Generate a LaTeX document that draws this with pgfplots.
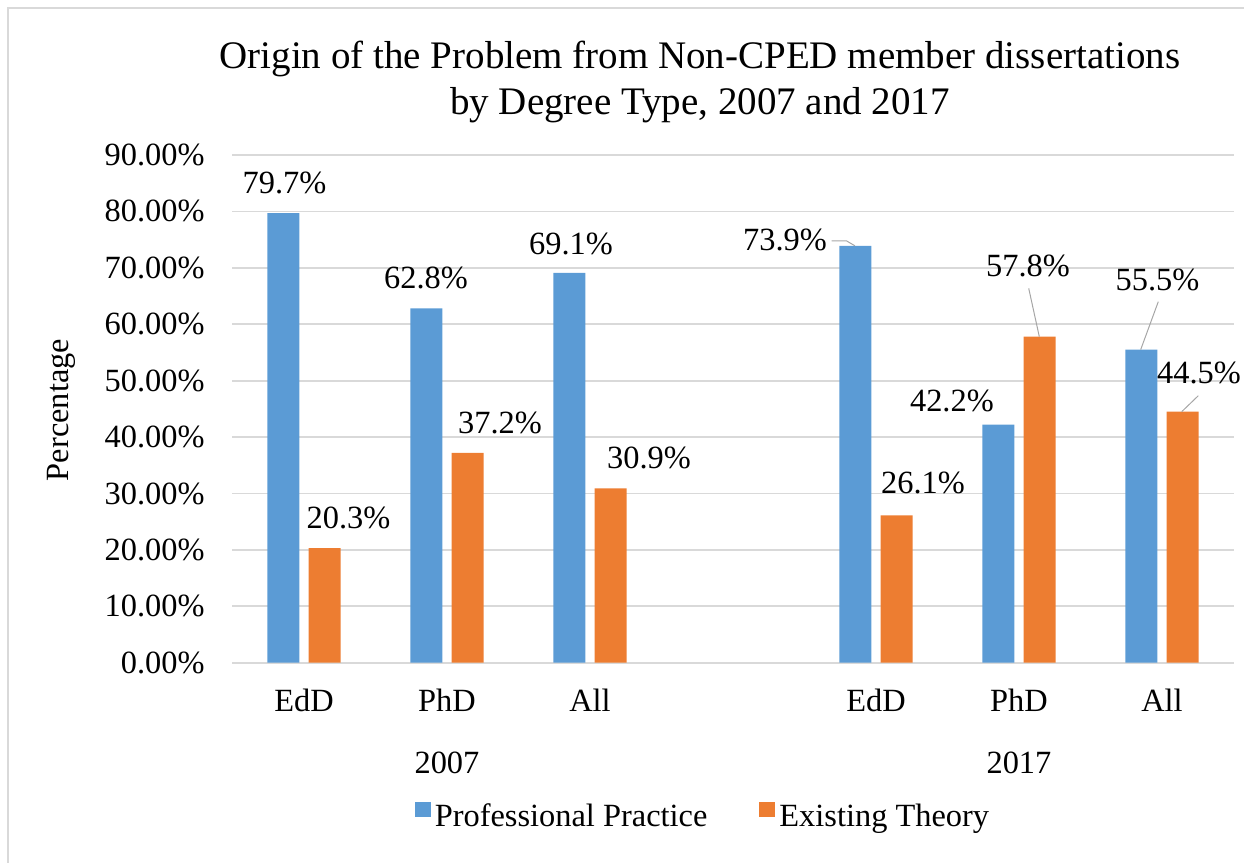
\documentclass[border=0pt]{standalone}
\usepackage{fontspec}
\setmainfont{Liberation Serif}
\usepackage{pgfplots}
\pgfplotsset{compat=1.18}

\definecolor{pblue}{HTML}{5B9BD5}
\definecolor{porange}{HTML}{ED7D31}
\definecolor{gridgray}{HTML}{D9D9D9}
\definecolor{leadgray}{HTML}{A6A6A6}

\newcommand{\lbl}{\fontsize{16.2pt}{19pt}\selectfont}
\newcommand{\ttl}{\fontsize{19.5pt}{23pt}\selectfont}

\begin{document}
\begin{tikzpicture}
% page is 1244x863 px at 0.5pt per px
\path[use as bounding box] (0,0) rectangle (622pt,431.5pt);
\draw[gridgray, line width=1pt] (4pt,0) -- (4pt,427.5pt) -- (622pt,427.5pt);

\node[anchor=base, font=\ttl] at (350pt,397pt) {Origin of the Problem from Non-CPED member dissertations};
\node[anchor=base, font=\ttl] at (350pt,374pt) {by Degree Type, 2007 and 2017};
\node[rotate=90, font=\lbl] at (30.5pt,226.5pt) {Percentage};

\begin{axis}[
    at={(116.25pt,100.15pt)}, anchor=south west,
    scale only axis,
    width=500.5pt, height=253.85pt,
    xmin=-0.5, xmax=6.5,
    ymin=0, ymax=90,
    ybar, bar width=16pt,
    clip=false,
    axis line style={draw=none},
    major tick length=0pt,
    ymajorgrids,
    grid style={gridgray, line width=0.9pt},
    ytick={0,10,...,90},
    yticklabels={0.00\%,10.00\%,20.00\%,30.00\%,40.00\%,50.00\%,60.00\%,70.00\%,80.00\%,90.00\%},
    yticklabel style={font=\lbl, inner sep=0pt, anchor=east},
    yticklabel shift=13.75pt,
    xtick={0,1,2,4,5,6},
    xticklabels={EdD,PhD,All,EdD,PhD,All},
    xticklabel style={font=\lbl, anchor=base, yshift=-24.5pt},
    legend columns=2,
    legend style={draw=none, fill=none, font=\lbl, at={(0.471,-0.304)}, anchor=center,
        /tikz/every even column/.append style={column sep=24pt}},
    legend image code/.code={\fill[#1] (0pt,0pt) rectangle (8pt,7.5pt);},
]
\addplot[fill=pblue, draw=none, bar shift=-10.3pt] coordinates {
(0,79.7) (1,62.8) (2,69.1) (4,73.9) (5,42.2) (6,55.5)
};
\addlegendentry{Professional Practice}
\addplot[fill=porange, draw=none, bar shift=10.3pt] coordinates {
(0,20.3) (1,37.2) (2,30.9) (4,26.1) (5,57.8) (6,44.5)
};
\addlegendentry{Existing Theory}

% group labels
\node[anchor=base, font=\lbl, yshift=-55.3pt] at (axis cs:1,0) {2007};
\node[anchor=base, font=\lbl, yshift=-55.3pt] at (axis cs:5,0) {2017};

% data labels
\node[anchor=base, font=\lbl] at (axis cs:-0.136,83.09) {79.7\%};
\node[anchor=base, font=\lbl] at (axis cs:0.311,23.83) {20.3\%};
\node[anchor=base, font=\lbl] at (axis cs:0.853,66.25) {62.8\%};
\node[anchor=base, font=\lbl] at (axis cs:1.371,40.67) {37.2\%};
\node[anchor=base, font=\lbl] at (axis cs:1.867,72.45) {69.1\%};
\node[anchor=base, font=\lbl] at (axis cs:2.413,34.46) {30.9\%};
\node[anchor=base, font=\lbl] at (axis cs:3.364,73.04) {73.9\%};
\node[anchor=base, font=\lbl] at (axis cs:4.329,30.03) {26.1\%};
\node[anchor=base, font=\lbl] at (axis cs:4.531,44.62) {42.2\%};
\node[anchor=base, font=\lbl] at (axis cs:5.063,68.43) {57.8\%};
\node[anchor=base, font=\lbl] at (axis cs:5.969,66.07) {55.5\%};
\node[anchor=base, font=\lbl] at (axis cs:6.259,49.53) {44.5\%};

% leader lines
\draw[leadgray, line width=0.5pt] (axis cs:3.690,74.76) -- (axis cs:3.795,74.76) -- (axis cs:3.853,73.9);
\draw[leadgray, line width=0.5pt] (axis cs:5.068,66.37) -- (axis cs:5.142,57.8);
\draw[leadgray, line width=0.5pt] (axis cs:5.974,64.0) -- (axis cs:5.851,55.5);
\draw[leadgray, line width=0.5pt] (axis cs:6.254,47.33) -- (axis cs:6.138,44.5);
\end{axis}
\end{tikzpicture}
\end{document}
